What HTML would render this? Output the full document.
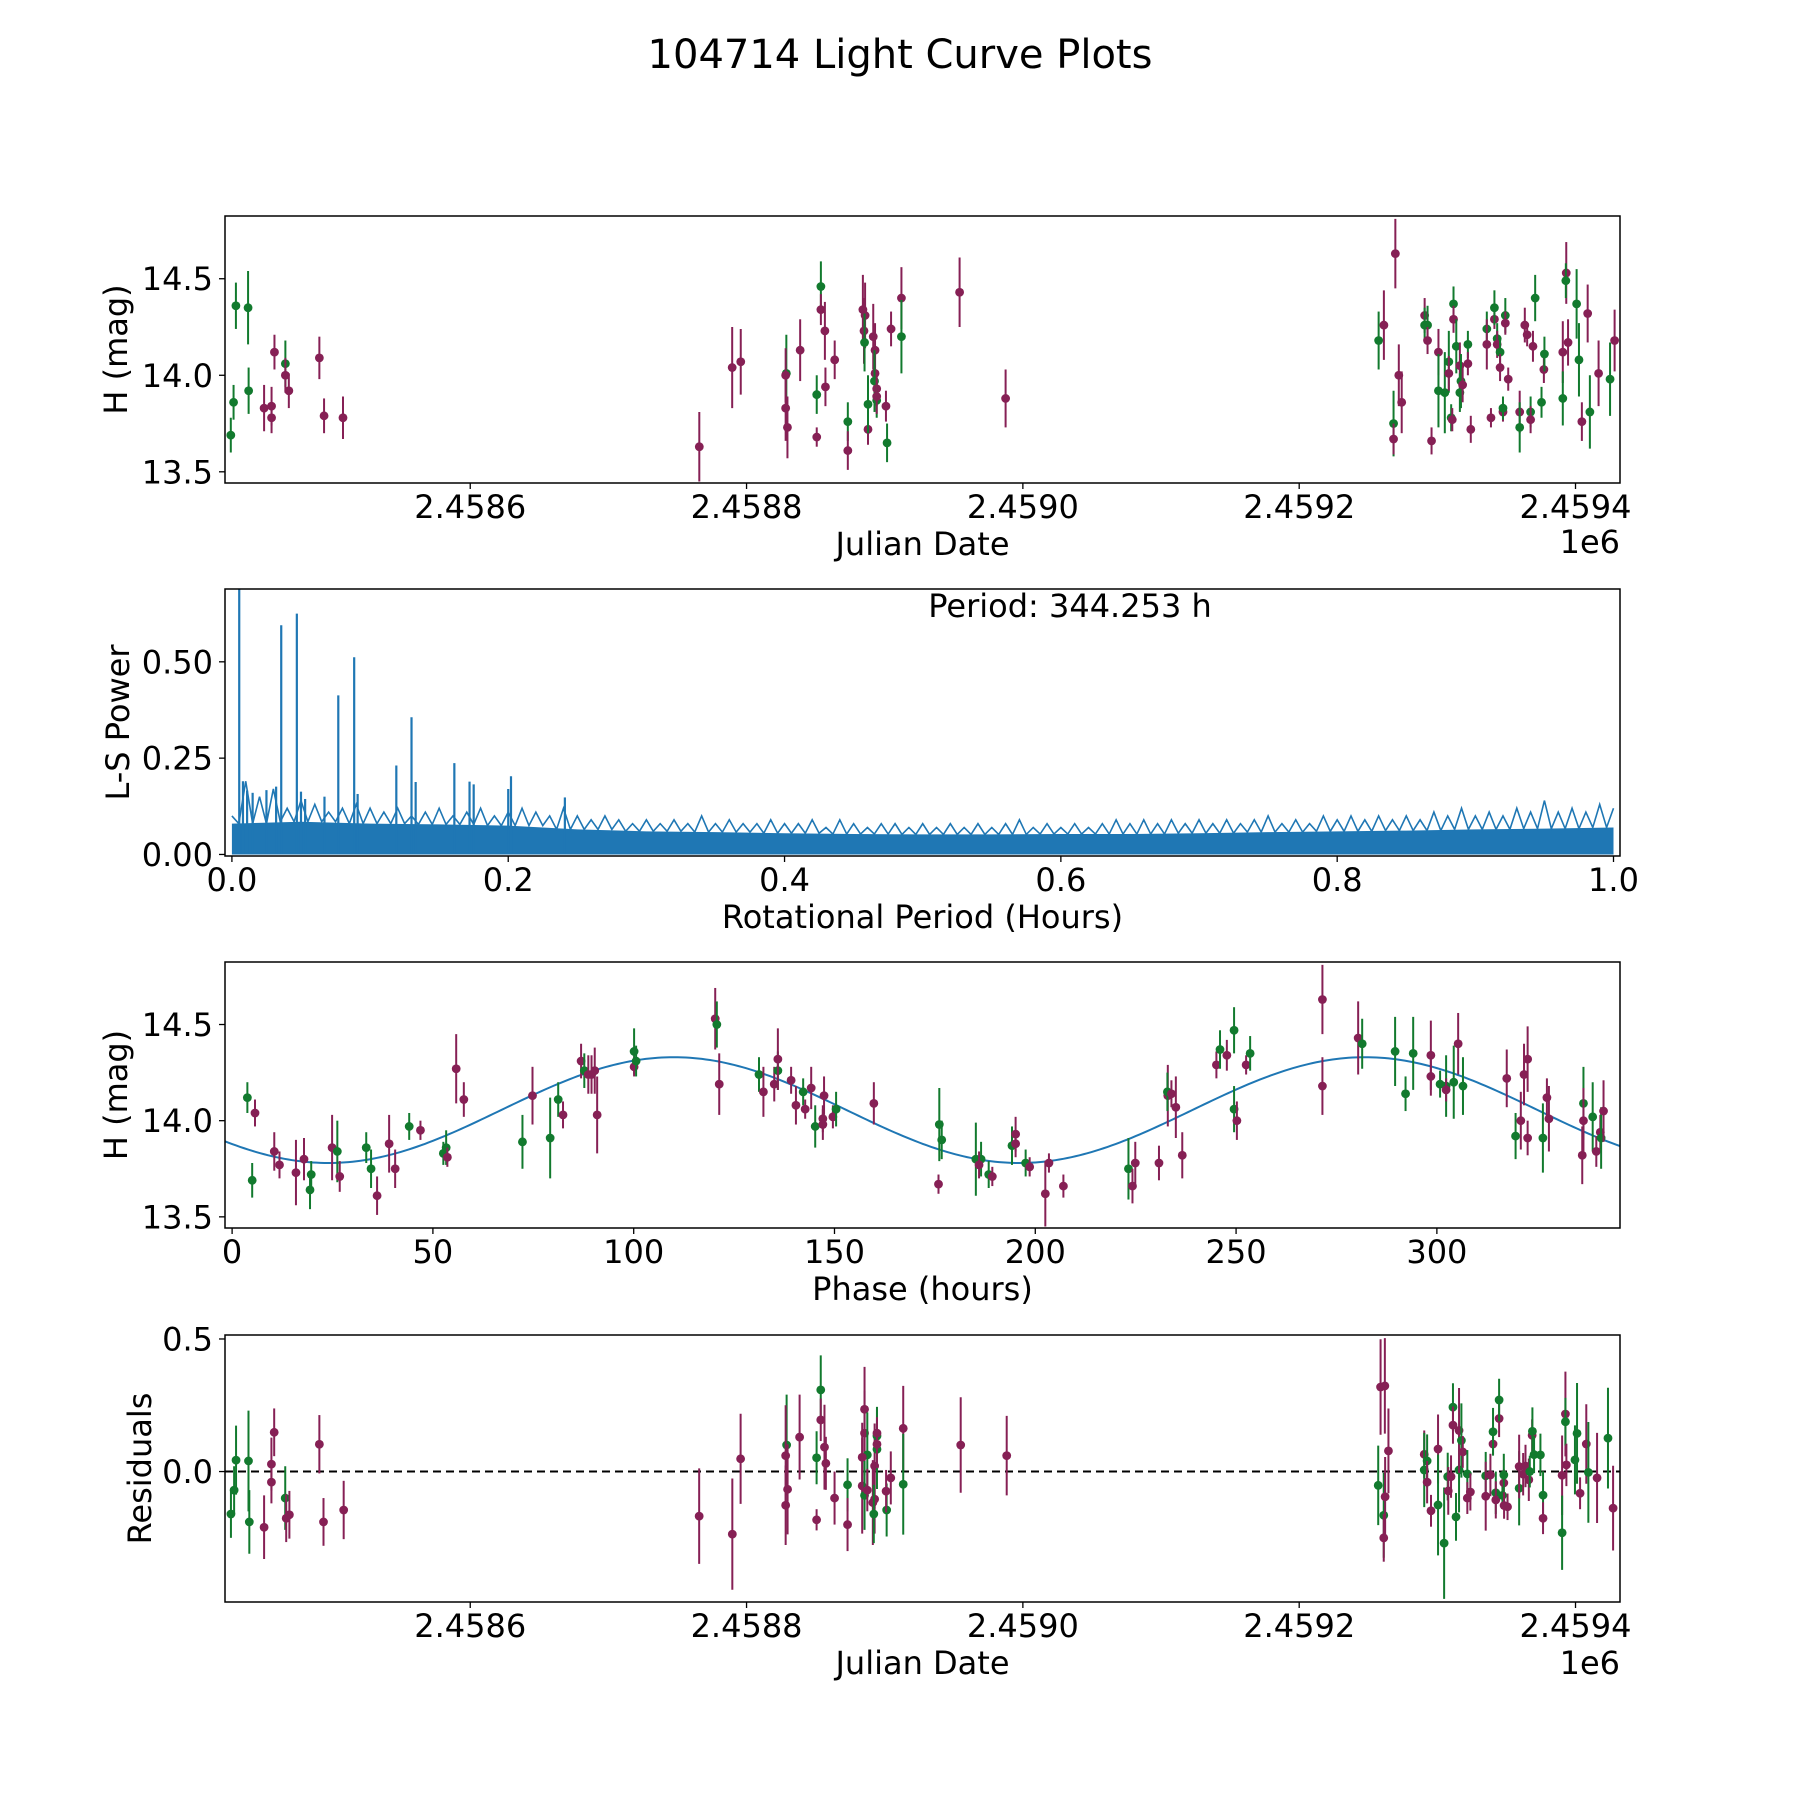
<!DOCTYPE html>
<html><head><meta charset="utf-8"><title>104714 Light Curve Plots</title>
<style>
html,body{margin:0;padding:0;background:#fff;}
svg{display:block;font-family:"DejaVu Sans","Liberation Sans",sans-serif;}
</style></head>
<body>
<svg id="chart" xmlns="http://www.w3.org/2000/svg" width="1800" height="1800" viewBox="0 0 1800 1800">
<rect x="0" y="0" width="1800" height="1800" fill="#fff"/>
<text x="900" y="68" font-size="40" text-anchor="middle" fill="#000">104714 Light Curve Plots</text>
</svg>
<script>
// ---------- Panel 1: light curve vs Julian Date (days since 2458600) ----------
const lcDay=[-173.3,-171.3,-169.6,-160.8,-160.4,-149.2,-143.8,-143.8,-141.7,-133.8,-133.8,-131.3,-109.2,-105.8,-92.1,
165.8,189.6,195.8,228.8,228.3,229.6,228.3,238.8,250.8,250.8,253.8,253.8,256.7,257.1,263.8,273.3,273.3,284.2,285.0,285.8,285.4,287.9,287.9,291.7,293.0,293.0,292.6,294.2,294.2,294.2,301.7,300.9,304.6,312.1,312.1,354.2,387.5,
657.5,661.3,669.6,668.3,668.3,672.1,674.2,690.8,690.8,692.9,692.9,695.8,700.8,700.8,705.4,708.3,708.3,710.0,710.8,711.7,711.7,713.7,716.3,717.1,716.3,718.3,722.1,722.1,724.2,735.8,735.8,738.8,741.3,741.3,743.3,743.3,745.4,745.4,747.5,747.5,749.2,749.2,751.3,759.6,759.6,763.3,765.0,767.5,767.5,769.2,770.8,775.4,777.1,777.5,790.8,790.8,793.3,793.0,794.6,800.8,802.5,804.6,808.8,810.4,816.7,825.0,828.3];
const lcMag=[13.69,13.86,14.36,14.35,13.92,13.83,13.84,13.78,14.12,14.06,14.00,13.92,14.09,13.79,13.78,
13.63,14.04,14.07,14.01,13.83,13.73,14.00,14.13,13.90,13.68,14.46,14.34,14.23,13.94,14.08,13.76,13.61,14.34,14.23,14.31,14.17,13.72,13.85,14.20,14.13,14.01,13.97,13.93,13.87,13.89,13.65,13.84,14.24,14.40,14.20,14.43,13.88,
14.18,14.26,14.63,13.75,13.67,14.00,13.86,14.31,14.26,14.26,14.18,13.66,14.12,13.92,13.91,14.07,14.01,13.78,13.77,14.37,14.29,14.15,14.05,13.97,13.91,13.95,14.16,14.06,13.72,14.24,14.16,13.78,14.29,14.35,14.19,14.16,14.12,14.04,13.81,13.83,14.31,14.27,13.98,13.81,13.73,14.26,14.21,13.81,13.77,14.15,14.40,13.86,14.03,14.11,14.12,13.88,14.53,14.49,14.17,14.37,14.08,13.76,14.32,13.81,14.01,13.98,14.18];
const lcErr=[.09,.09,.12,.19,.12,.12,.10,.08,.09,.12,.09,.09,.11,.09,.11,
.18,.21,.17,.20,.17,.16,.14,.16,.10,.05,.13,.08,.15,.10,.10,.10,.10,.18,.17,.17,.15,.08,.15,.17,.14,.12,.16,.09,.09,.09,.10,.08,.09,.16,.19,.18,.15,
.15,.18,.18,.17,.08,.16,.16,.09,.09,.10,.07,.07,.12,.19,.21,.16,.09,.07,.06,.09,.07,.14,.12,.14,.10,.09,.07,.06,.07,.09,.13,.05,.05,.09,.08,.07,.07,.07,.05,.06,.09,.06,.06,.11,.13,.09,.06,.08,.07,.08,.12,.08,.07,.09,.16,.14,.16,.09,.12,.18,.19,.10,.15,.19,.17,.19,.16];
const lcBand=["g","g","g","g","g","p","p","p","p","g","p","p","p","p","p",
"p","p","p","g","p","p","p","p","g","p","g","p","p","p","p","g","p","p","p","p","g","p","g","p","p","p","g","p","g","p","g","p","p","p","g","p","p",
"g","p","p","g","p","p","p","p","g","g","p","p","p","g","g","g","p","g","p","g","p","g","p","g","g","p","g","p","p","g","p","p","p","g","g","p","g","p","p","g","g","p","p","p","g","p","p","g","p","p","g","g","p","g","p","g","p","g","p","g","g","p","p","g","p","g","p"];

// ---------- Panel 2: Lomb-Scargle periodogram ----------
const pgPeakX=[0.0053,0.0357,0.047,0.077,0.0885,0.119,0.130,0.133,0.161,0.172,0.175,0.202,0.200,0.008,0.011,0.015,0.025,0.032,0.050,0.053,0.067,0.091,0.241];
const pgPeakPow=[0.70,0.595,0.625,0.413,0.512,0.231,0.356,0.188,0.237,0.189,0.182,0.203,0.17,0.19,0.166,0.16,0.167,0.176,0.163,0.144,0.15,0.157,0.148];
const pgCeil=[0.10,0.19,0.15,0.17,0.12,0.14,0.13,0.11,0.12,0.13,0.12,
0.11,0.12,0.10,0.11,0.12,0.10,0.11,0.12,0.10,0.11,
0.12,0.11,0.10,0.12,0.10,0.09,0.10,0.09,0.08,0.09,
0.08,0.09,0.08,0.10,0.08,0.09,0.08,0.08,0.09,0.08,
0.08,0.09,0.07,0.09,0.08,0.07,0.08,0.08,0.07,0.08,
0.07,0.08,0.07,0.08,0.07,0.08,0.09,0.07,0.08,0.07,
0.08,0.07,0.08,0.09,0.08,0.09,0.08,0.09,0.08,0.09,
0.08,0.09,0.08,0.09,0.10,0.08,0.09,0.08,0.10,0.09,
0.10,0.09,0.10,0.09,0.10,0.09,0.11,0.10,0.12,0.10,
0.11,0.10,0.12,0.11,0.14,0.11,0.12,0.11,0.13,0.12];
const pgFloor=[0.08,0.085,0.08,0.078,0.075,0.065,0.06,0.058,0.055,0.053,0.052,0.052,0.053,0.053,0.055,0.058,0.06,0.062,0.065,0.067,0.07];

// ---------- Panel 3: phased light curve ----------
const phHour=[3.8,5.7,5.0,10.5,11.8,15.9,17.9,19.7,19.4,24.9,26.2,26.8,33.4,34.6,36.1,39.1,40.6,44.1,46.9,52.6,53.3,53.6,55.8,57.7,72.3,74.8,79.2,81.2,82.4,86.9,87.7,88.7,89.5,90.3,90.9,100.1,100.1,100.6,120.3,120.7,121.3,131.2,132.3,135.0,135.9,135.9,139.2,140.4,142.2,142.7,144.2,147.4,145.2,147.1,147.1,149.6,150.4,159.8,
176.1,176.7,175.9,185.2,186.5,186.0,188.4,189.3,194.2,195.1,195.1,197.6,198.6,202.5,203.4,207.0,223.2,224.2,224.9,230.8,233.0,232.9,233.9,235.0,236.6,245.1,246.0,247.7,249.5,249.5,250.2,252.5,253.5,271.5,271.5,280.4,281.4,289.6,292.2,294.1,298.5,298.5,300.8,302.3,302.3,304.2,305.3,306.5,317.4,319.6,320.9,321.7,322.6,322.6,326.4,327.4,327.9,336.2,336.5,336.5,338.8,339.7,340.7,340.9,341.5];
const phMag=[14.12,14.04,13.69,13.84,13.77,13.73,13.80,13.72,13.64,13.86,13.84,13.71,13.86,13.75,13.61,13.88,13.75,13.97,13.95,13.83,13.86,13.81,14.27,14.11,13.89,14.13,13.91,14.11,14.03,14.31,14.26,14.24,14.24,14.26,14.03,14.36,14.28,14.31,14.53,14.50,14.19,14.24,14.15,14.19,14.26,14.32,14.21,14.08,14.15,14.06,14.17,14.13,13.97,14.01,13.98,14.02,14.06,14.09,
13.98,13.90,13.67,13.80,13.80,13.77,13.72,13.71,13.87,13.93,13.88,13.78,13.76,13.62,13.78,13.66,13.75,13.66,13.78,13.78,14.13,14.15,14.14,14.07,13.82,14.29,14.37,14.34,14.47,14.06,14.00,14.29,14.35,14.63,14.18,14.43,14.40,14.36,14.14,14.35,14.34,14.23,14.19,14.18,14.16,14.20,14.40,14.18,14.22,13.92,14.00,14.24,14.32,13.91,13.91,14.12,14.01,13.82,14.09,14.00,14.02,13.84,13.94,13.91,14.05];
const phErr=[.08,.07,.09,.10,.07,.17,.11,.07,.10,.17,.16,.08,.08,.10,.10,.15,.10,.07,.05,.06,.09,.05,.18,.09,.14,.15,.21,.09,.07,.09,.09,.10,.10,.12,.20,.12,.05,.08,.16,.12,.16,.09,.13,.09,.10,.16,.07,.10,.07,.05,.11,.10,.11,.07,.08,.06,.09,.11,
.19,.10,.05,.19,.09,.07,.07,.05,.10,.09,.07,.07,.05,.17,.05,.06,.16,.09,.11,.09,.16,.10,.07,.16,.12,.07,.10,.08,.12,.12,.10,.05,.09,.18,.15,.19,.13,.18,.09,.19,.18,.10,.07,.16,.06,.19,.16,.15,.15,.12,.15,.16,.17,.09,.18,.10,.17,.15,.19,.17,.18,.08,.09,.16,.16];
const phBand=["g","p","g","p","p","p","p","g","g","p","g","p","g","g","p","p","p","g","p","g","g","p","p","p","g","p","g","g","p","p","g","p","p","p","p","g","p","g","p","g","p","g","p","p","g","p","p","p","g","p","p","p","g","p","p","p","g","p",
"g","g","p","g","g","p","g","p","g","p","p","g","p","p","p","p","g","p","p","p","p","g","p","p","p","p","g","p","g","g","p","p","g","p","p","p","g","g","g","g","p","p","g","g","p","g","p","g","p","g","p","p","p","p","g","p","p","p","g","p","g","p","p","g","p"];
const modelMean=14.055, modelAmp=0.275, modelPeriod=172.1, modelPeakPhase=110;

// ---------- Panel 4: residuals vs Julian Date ----------
const resDay=[-173.2,-170.9,-169.5,-160.5,-159.9,-149.2,-143.9,-143.9,-141.9,-133.9,-133.2,-130.9,-109.2,-106.2,-91.6,165.7,189.7,195.7,229.0,228.3,228.3,229.7,238.4,250.7,250.7,253.7,253.7,256.4,257.4,263.7,273.1,273.1,285.4,285.4,287.4,283.7,283.7,285.4,287.4,291.4,292.7,292.7,292.1,294.4,294.4,294.4,294.4,301.4,301.0,304.4,313.4,313.4,355.0,388.3,
657.2,658.9,662.0,661.2,661.2,662.2,664.6,690.5,690.5,692.6,692.6,695.4,700.5,700.5,704.9,707.5,707.9,709.9,711.3,711.3,713.5,715.7,715.7,717.4,718.4,721.7,723.9,721.7,735.0,735.0,740.3,740.3,738.4,742.3,742.3,744.7,744.7,747.1,748.1,748.1,748.3,750.8,759.2,759.2,762.1,763.8,766.2,766.9,768.6,768.8,770.0,774.6,776.5,776.5,790.3,790.3,792.7,792.7,793.4,799.6,801.1,803.3,807.8,809.3,815.6,823.5,827.2];
const resVal=[-0.16,-0.07,0.043,0.04,-0.19,-0.21,-0.04,0.028,0.148,-0.10,-0.176,-0.163,0.103,-0.19,-0.145,-0.168,-0.236,0.048,0.10,0.06,-0.127,-0.067,0.13,0.052,-0.182,0.308,0.195,0.092,0.031,-0.10,-0.05,-0.20,0.235,0.145,0.063,0.054,-0.054,-0.09,-0.07,-0.117,0.021,-0.104,-0.16,0.084,0.134,0.103,0.145,-0.145,-0.074,-0.024,0.163,-0.048,0.10,0.06,
-0.052,0.319,0.323,-0.165,-0.25,-0.095,0.078,0.065,0.006,0.04,-0.04,-0.148,0.085,-0.126,-0.27,-0.019,-0.073,-0.019,0.243,0.175,-0.171,0.006,0.155,0.117,0.074,-0.009,-0.077,-0.10,-0.016,-0.093,0.104,0.15,-0.013,-0.08,-0.107,0.20,0.27,-0.09,-0.043,-0.013,-0.128,-0.133,-0.063,0.019,-0.01,0.021,-0.031,0.0,0.137,0.152,0.064,0.063,-0.089,-0.176,-0.014,-0.231,0.217,0.188,0.025,0.044,0.144,-0.082,0.104,-0.003,-0.024,0.126,-0.138];
const resErr=[.09,.09,.13,.19,.12,.12,.08,.10,.09,.12,.09,.09,.11,.09,.11,.18,.21,.17,.19,.19,.15,.17,.16,.10,.04,.13,.08,.16,.10,.10,.10,.10,.16,.16,.16,.13,.18,.13,.08,.16,.16,.13,.11,.15,.11,.09,.06,.10,.08,.10,.16,.19,.18,.15,
.15,.18,.18,.16,.09,.15,.16,.09,.14,.10,.08,.06,.13,.19,.21,.09,.09,.08,.09,.07,.09,.16,.16,.14,.06,.09,.07,.06,.09,.13,.04,.09,.08,.08,.07,.07,.08,.05,.05,.08,.05,.05,.14,.12,.08,.08,.08,.06,.06,.09,.07,.08,.09,.06,.15,.14,.16,.09,.08,.13,.19,.06,.15,.19,.17,.19,.16];
const resBand=["g","g","g","g","g","p","p","p","p","g","p","p","p","p","p","p","p","p","g","p","p","p","p","g","p","g","p","p","p","p","g","p","p","p","g","p","p","g","p","p","p","p","g","g","g","p","p","g","p","p","p","g","p","p",
"g","p","p","g","p","p","p","p","g","g","p","p","p","g","g","g","p","p","g","p","g","g","p","g","p","g","p","p","g","p","p","g","p","g","p","p","g","g","p","g","p","p","g","p","p","p","p","g","p","g","g","g","g","p","p","g","p","g","p","g","g","p","p","g","p","g","p"];

// ---------- drawing ----------
const NS="http://www.w3.org/2000/svg";
const svg=document.getElementById('chart');
const COL={g:"#127a2e",p:"#862055"};
function mk(tag,attrs,parent){const e=document.createElementNS(NS,tag);for(const k in attrs)e.setAttribute(k,attrs[k]);(parent||svg).appendChild(e);return e;}
function scale(d0,d1,r0,r1){return v=>r0+(v-d0)*(r1-r0)/(d1-d0);}

function axes(name,L,T,R,B,xd,yd,xt,xtl,yt,ytl,xlabel,ylabel,ylabX){
  const g=mk('g',{});
  
  
  const sx=scale(xd[0],xd[1],L,R), sy=scale(yd[0],yd[1],B,T);
  const clip=mk('clipPath',{id:name+'-clip'},g);
  mk('rect',{x:L,y:T,width:R-L,height:B-T},clip);
  const plot=mk('g',{'clip-path':'url(#'+name+'-clip)'},g);
  
  
  for(let i=0;i<xt.length;i++){
    const x=sx(xt[i]);
    const t=mk('line',{x1:x,x2:x,y1:B,y2:B+6,stroke:'#000','stroke-width':1.3},g);
    
    
    const lb=mk('text',{x:x,y:B+35,'font-size':32,'text-anchor':'middle',fill:'#000'},g);
    
    
    lb.textContent=xtl[i];
  }
  for(let i=0;i<yt.length;i++){
    const y=sy(yt[i]);
    const t=mk('line',{x1:L-6,x2:L,y1:y,y2:y,stroke:'#000','stroke-width':1.3},g);
    
    
    const lb=mk('text',{x:L-12,y:y+11.5,'font-size':32,'text-anchor':'end',fill:'#000'},g);
    
    
    lb.textContent=ytl[i];
  }
  const xl=mk('text',{x:(L+R)/2,y:B+72,'font-size':32,'text-anchor':'middle',fill:'#000'},g);
  
  
  xl.textContent=xlabel;
  const yl=mk('text',{x:0,y:0,'font-size':32,'text-anchor':'middle','dominant-baseline':'central',fill:'#000',transform:'translate('+ylabX+','+((T+B)/2)+') rotate(-90)'},g);
  
  
  yl.textContent=ylabel;
  return {g,plot,sx,sy,L,T,R,B};
}
function frame(a,name){
  const r=mk('rect',{x:a.L,y:a.T,width:a.R-a.L,height:a.B-a.T,fill:'none',stroke:'#000','stroke-width':1.5},a.g);
  
  
}
function errPoints(a,name,xs,ys,es,bs){
  for(let i=0;i<xs.length;i++){
    const x=a.sx(xs[i]), y=a.sy(ys[i]);
    const c=COL[bs[i]];
    const pg=mk('g',{},a.plot);
    
    
    mk('line',{x1:x,x2:x,y1:a.sy(ys[i]+es[i]),y2:a.sy(ys[i]-es[i]),stroke:c,'stroke-width':2},pg);
    mk('circle',{cx:x,cy:y,r:4.4,fill:c},pg);
  }
}

const dayTicks=[0,200,400,600,800], dayTickLabels=['2.4586','2.4588','2.4590','2.4592','2.4594'];
const magTicks=[13.5,14.0,14.5], magTickLabels=['13.5','14.0','14.5'];
const dayDomain=[-177.5,832.2], magDomain=[13.442,14.825];

// Panel 1
const a1=axes('lightcurve',225,216,1620,483,dayDomain,magDomain,dayTicks,dayTickLabels,magTicks,magTickLabels,'Julian Date','H (mag)',116);
errPoints(a1,'lightcurve',lcDay,lcMag,lcErr,lcBand);
frame(a1,'lightcurve');
const off1=mk('text',{x:1620,y:553,'font-size':32,'text-anchor':'end',fill:'#000'},a1.g);


off1.textContent='1e6';

// Panel 2
const a2=axes('periodogram',225,589,1620,856,[-0.005,1.0047],[-0.004,0.689],[0,0.2,0.4,0.6,0.8,1.0],['0.0','0.2','0.4','0.6','0.8','1.0'],[0,0.25,0.5],['0.00','0.25','0.50'],'Rotational Period (Hours)','L-S Power',118);
{
  let pts=[a2.sx(0)+','+a2.sy(0)];
  for(let i=0;i<pgFloor.length;i++){pts.push(a2.sx(i*0.05)+','+a2.sy(pgFloor[i]));}
  pts.push(a2.sx(1)+','+a2.sy(0));
  const f=mk('polygon',{points:pts.join(' '),fill:'#1f77b4'},a2.plot);
  
  
  let zz=[];
  for(let i=0;i<pgCeil.length;i++){
    const x=i*0.01;
    const fl=pgFloor[Math.min(20,Math.round(x/0.05))];
    zz.push(a2.sx(x)+','+a2.sy(pgCeil[i]));
    if(i<pgCeil.length-1) zz.push(a2.sx(x+0.005)+','+a2.sy(fl));
  }
  const z=mk('polyline',{points:zz.join(' '),fill:'none',stroke:'#1f77b4','stroke-width':1.6},a2.plot);
  
  
  for(let i=0;i<pgPeakX.length;i++){
    const x=a2.sx(pgPeakX[i]);
    const l=mk('line',{x1:x,x2:x,y1:a2.sy(0),y2:a2.sy(pgPeakPow[i]),stroke:'#1f77b4','stroke-width':2.2},a2.plot);
    
    
  }
}
frame(a2,'periodogram');
const pt=mk('text',{x:1070,y:617,'font-size':32,'text-anchor':'middle',fill:'#000'},a2.g);


pt.textContent='Period: 344.253 h';

// Panel 3
const a3=axes('phased',225,962,1620,1228,[-1.77,345.6],magDomain,[0,50,100,150,200,250,300],['0','50','100','150','200','250','300'],magTicks,magTickLabels,'Phase (hours)','H (mag)',116);
{
  let cp=[];
  for(let ph=-2;ph<=346;ph+=1){cp.push(a3.sx(ph)+','+a3.sy(modelMean+modelAmp*Math.cos(2*Math.PI*(ph-modelPeakPhase)/modelPeriod)));}
  const m=mk('polyline',{points:cp.join(' '),fill:'none',stroke:'#1f77b4','stroke-width':2},a3.plot);
  
  
}
errPoints(a3,'phased',phHour,phMag,phErr,phBand);
frame(a3,'phased');

// Panel 4
const a4=axes('residuals',225,1335,1620,1602,dayDomain,[-0.492,0.515],dayTicks,dayTickLabels,[0,0.5],['0.0','0.5'],'Julian Date','Residuals',140);
{
  const zl=mk('line',{x1:a4.L,x2:a4.R,y1:a4.sy(0),y2:a4.sy(0),stroke:'#000','stroke-width':2,'stroke-dasharray':'8,5'},a4.plot);
  
  
}
errPoints(a4,'residuals',resDay,resVal,resErr,resBand);
frame(a4,'residuals');
const off4=mk('text',{x:1620,y:1674,'font-size':32,'text-anchor':'end',fill:'#000'},a4.g);


off4.textContent='1e6';
</script>
</body></html>
